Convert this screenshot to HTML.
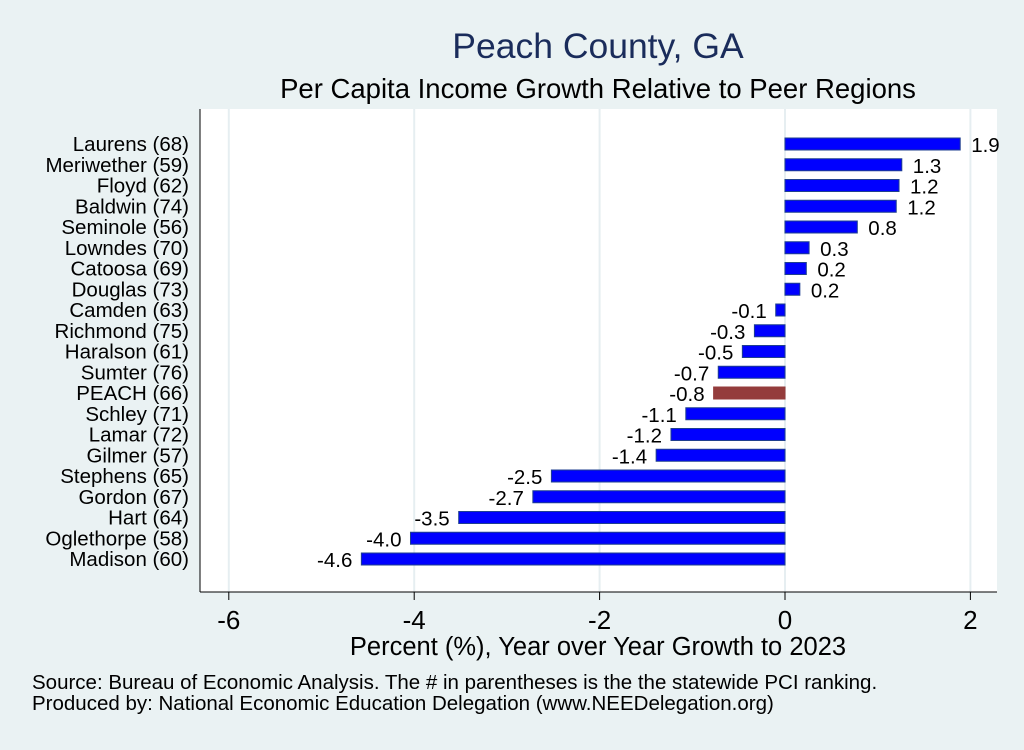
<!DOCTYPE html>
<html><head><meta charset="utf-8"><style>
body{margin:0;background:#eaf2f3;font-family:"Liberation Sans",sans-serif;}
</style></head><body>
<svg id="c" width="1024" height="745" xmlns="http://www.w3.org/2000/svg">
<rect width="1024" height="745" fill="#eaf2f3"/>
<text x="598" y="58" font-size="35.5" fill="#1a2c5b" text-anchor="middle">Peach County, GA</text>
<text x="598" y="98" font-size="27.5" fill="#000" text-anchor="middle">Per Capita Income Growth Relative to Peer Regions</text>
<rect x="200" y="109" width="797" height="483" fill="#fff"/>
<g id="grid"></g><g id="bars"></g><g id="labels"></g><g id="ax"></g>
<line x1="200" y1="109" x2="200" y2="592" stroke="#000"/>
<line x1="200" y1="592" x2="997" y2="592" stroke="#000"/>
<text x="598" y="655" font-size="25.5" text-anchor="middle">Percent (%), Year over Year Growth to 2023</text>
<text x="32" y="689" font-size="20.5">Source: Bureau of Economic Analysis. The # in parentheses is the the statewide PCI ranking.</text>
<text x="32" y="710" font-size="20.5">Produced by: National Economic Education Delegation (www.NEEDelegation.org)</text>
</svg>
<script>
const categories=["Laurens (68)","Meriwether (59)","Floyd (62)","Baldwin (74)","Seminole (56)","Lowndes (70)","Catoosa (69)","Douglas (73)","Camden (63)","Richmond (75)","Haralson (61)","Sumter (76)","PEACH (66)","Schley (71)","Lamar (72)","Gilmer (57)","Stephens (65)","Gordon (67)","Hart (64)","Oglethorpe (58)","Madison (60)"];
const values=[1.89,1.26,1.23,1.2,0.78,0.26,0.23,0.16,-0.1,-0.33,-0.46,-0.72,-0.77,-1.07,-1.23,-1.39,-2.52,-2.72,-3.52,-4.04,-4.57];
const ticks=[-6,-4,-2,0,2];
const highlight="PEACH (66)";
const NS="http://www.w3.org/2000/svg";
const x=v=>785+v*92.7;
const y=i=>144+i*20.75;
function mk(t,a,p){const e=document.createElementNS(NS,t);for(const k in a)e.setAttribute(k,a[k]);document.getElementById(p).appendChild(e);return e;}
ticks.forEach(t=>{
 const g=mk('line',{x1:x(t),x2:x(t),y1:109,y2:592,stroke:'#e6eef1','stroke-width':2},'grid');
 
 
 const tk=mk('line',{x1:x(t),x2:x(t),y1:592,y2:600,stroke:'#000'},'ax');
 
 
 const tl=mk('text',{x:x(t),y:629,'font-size':26,'text-anchor':'middle'},'ax');
 tl.textContent=t;
 
 
});
categories.forEach((c,i)=>{
 const v=values[i];const h=c===highlight;
 const x0=Math.min(x(0),x(v)),w=Math.abs(x(v)-x(0));
 const r=mk('rect',{x:x0,y:y(i)-6,width:w,height:12,fill:h?'#943c3c':'#0000ff',stroke:h?'#943c3c':'#1f3f8f','stroke-width':1},'bars');
 
 
 const lab=mk('text',{x:v>=0?x(v)+11:x(v)-9,y:y(i)+8,'font-size':20.5,'text-anchor':v>=0?'start':'end'},'labels');
 lab.textContent=v.toFixed(1);
 
 
 const cl=mk('text',{x:189,y:y(i)+7,'font-size':20.5,'text-anchor':'end'},'labels');
 cl.textContent=c;
 
 
});
</script>
</body></html>
